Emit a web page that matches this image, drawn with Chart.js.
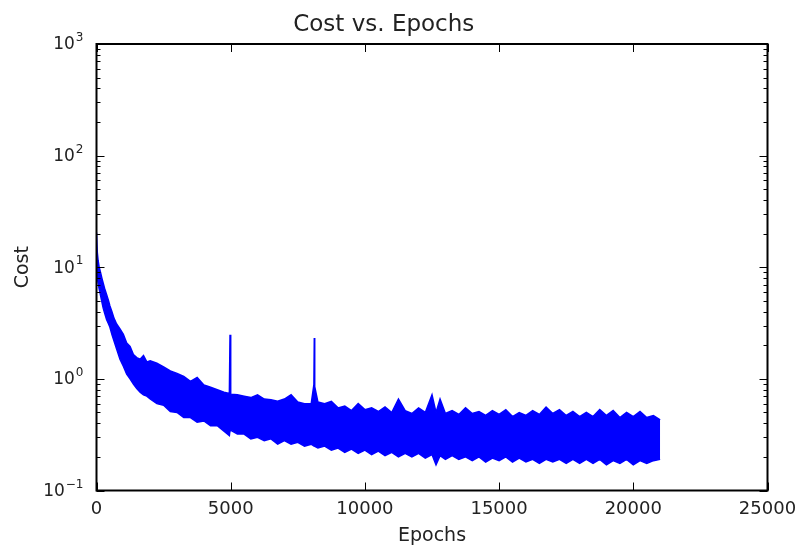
<!DOCTYPE html>
<html>
<head>
<meta charset="utf-8">
<script src="https://cdn.jsdelivr.net/npm/chart.js@4.4.1/dist/chart.umd.min.js"></script>
<style>
html, body { margin: 0; padding: 0; background: #fff; }
canvas { display: block; }
</style>
</head>
<body>
<canvas id="costChart" width="799" height="550"></canvas>
<script>
var epochs = [0, 30, 60, 100, 150, 200, 250, 300, 375, 450, 500, 575, 650, 750, 875, 1000,
  1125, 1250, 1375, 1500, 1625, 1750, 1875, 2000, 2250, 2500, 2750, 3000, 3250, 3500, 3750,
  4000, 4250, 4500, 4750, 4950, 4975, 5000, 5250, 5500, 5750, 6000, 6250, 6500, 6750, 7000,
  7250, 7500, 7750, 8000, 8100, 8115, 8130, 8250, 8500, 8750, 9000, 9250, 9500, 9750, 10000,
  10250, 10500, 10750, 11000, 11250, 11500, 11750, 12000, 12250, 12500, 12650, 12800, 13000,
  13250, 13500, 13750, 14000, 14250, 14500, 14750, 15000, 15250, 15500, 15750, 16000, 16250,
  16500, 16750, 17000, 17250, 17500, 17750, 18000, 18250, 18500, 18750, 19000, 19250, 19500,
  19750, 20000, 20250, 20500, 20750, 21000];

// top edge of the noisy cost curve
var costHigh = [20.5, 13.5, 11.5, 10.0, 9.0, 8.0, 7.2, 6.5, 5.7, 5.0, 4.5, 4.0, 3.5, 3.1, 2.8, 2.5,
  2.1, 1.95, 1.65, 1.55, 1.5, 1.62, 1.42, 1.45, 1.38, 1.28, 1.18, 1.12, 1.05, 0.95, 1.03,
  0.88, 0.84, 0.80, 0.76, 0.74, 2.49, 0.73, 0.72, 0.70, 0.68, 0.72, 0.66, 0.65, 0.63, 0.66,
  0.72, 0.62, 0.60, 0.60, 0.89, 2.32, 0.85, 0.62, 0.60, 0.63, 0.55, 0.57, 0.52, 0.60, 0.53,
  0.55, 0.51, 0.56, 0.50, 0.66, 0.52, 0.49, 0.55, 0.50, 0.72, 0.50, 0.66, 0.49,
  0.52, 0.48, 0.55, 0.49, 0.51, 0.47, 0.52, 0.48, 0.53, 0.46, 0.50, 0.47, 0.52,
  0.48, 0.56, 0.49, 0.53, 0.47, 0.51, 0.46, 0.50, 0.46, 0.53, 0.47, 0.52, 0.45,
  0.50, 0.46, 0.51, 0.45, 0.47, 0.43];

// bottom edge of the noisy cost curve
var costLow = [9.0, 8.0, 7.2, 6.4, 5.6, 4.9, 4.3, 3.9, 3.4, 3.1, 2.9, 2.5, 2.2, 1.85, 1.5, 1.3,
  1.1, 1.0, 0.9, 0.82, 0.76, 0.72, 0.70, 0.66, 0.60, 0.58, 0.51, 0.50, 0.45, 0.45, 0.41,
  0.42, 0.38, 0.38, 0.34, 0.31, 0.35, 0.35, 0.32, 0.32, 0.29, 0.30, 0.28, 0.29, 0.26, 0.28,
  0.26, 0.27, 0.25, 0.26, 0.25, 0.25, 0.25, 0.24, 0.25, 0.23, 0.24, 0.22, 0.235, 0.215, 0.23,
  0.21, 0.225, 0.205, 0.22, 0.20, 0.215, 0.20, 0.215, 0.195, 0.21, 0.17, 0.205, 0.19,
  0.205, 0.19, 0.20, 0.185, 0.20, 0.18, 0.195, 0.185, 0.20, 0.18, 0.195, 0.18, 0.19,
  0.175, 0.19, 0.18, 0.19, 0.175, 0.19, 0.175, 0.19, 0.175, 0.19, 0.17, 0.185, 0.175,
  0.19, 0.17, 0.185, 0.175, 0.185, 0.19];

var xTicks = [0, 5000, 10000, 15000, 20000, 25000];
var yTickExp = [-1, 0, 1, 2, 3];

var textColor = '#222';
var lineBlue = '#0000ff';

function toPoints(ys) {
  return epochs.map(function (e, i) { return { x: e, y: ys[i] }; });
}

// matplotlib style box, inward ticks and 10^n labels
var mplFrame = {
  id: 'mplFrame',
  afterDraw: function (chart) {
    var ctx = chart.ctx, area = chart.chartArea;
    var xs = chart.scales.x, ys = chart.scales.y;
    ctx.save();
    ctx.strokeStyle = '#000';
    ctx.lineWidth = 1;
    ctx.beginPath();
    xTicks.forEach(function (v) {
      var px = Math.round(xs.getPixelForValue(v)) + 0.5;
      ctx.moveTo(px, area.bottom); ctx.lineTo(px, area.bottom - 8);
      ctx.moveTo(px, area.top); ctx.lineTo(px, area.top + 8);
    });
    yTickExp.forEach(function (e) {
      for (var m = 1; m <= 9; m++) {
        var v = m * Math.pow(10, e);
        if (v > 1000) break;
        var len = m === 1 ? 8 : 4;
        var py = Math.round(ys.getPixelForValue(v)) + 0.5;
        ctx.moveTo(area.left, py); ctx.lineTo(area.left + len, py);
        ctx.moveTo(area.right, py); ctx.lineTo(area.right - len, py);
      }
    });
    ctx.stroke();

    ctx.lineWidth = 2;
    ctx.strokeRect(area.left, area.top, area.right - area.left, area.bottom - area.top);

    // y tick labels with superscript exponent
    ctx.fillStyle = textColor;
    ctx.textBaseline = 'middle';
    yTickExp.forEach(function (e) {
      var py = ys.getPixelForValue(Math.pow(10, e));
      var expStr = e < 0 ? '\u2212' + (-e) : String(e);
      ctx.font = '12px "DejaVu Sans"';
      var ew = ctx.measureText(expStr).width;
      var ex = area.left - 13 - ew;
      ctx.textAlign = 'left';
      ctx.fillText(expStr, ex, py - 6);
      ctx.font = '17px "DejaVu Sans"';
      ctx.textAlign = 'right';
      ctx.fillText('10', ex - 1, py + 1);
    });
    ctx.restore();
  }
};

var chart = new Chart(document.getElementById('costChart'), {
  type: 'line',
  data: {
    datasets: [
      {
        data: toPoints(costHigh),
        borderColor: lineBlue,
        backgroundColor: lineBlue,
        borderWidth: 1.5,
        pointRadius: 0,
        tension: 0,
        fill: '+1'
      },
      {
        data: toPoints(costLow),
        borderColor: lineBlue,
        backgroundColor: lineBlue,
        borderWidth: 1.5,
        pointRadius: 0,
        tension: 0,
        fill: false
      }
    ]
  },
  options: {
    responsive: false,
    animation: false,
    devicePixelRatio: 1,
    layout: { padding: { left: 0, right: 31.5, top: 0, bottom: 0 } },
    plugins: {
      legend: { display: false },
      tooltip: { enabled: false },
      title: {
        display: true,
        text: 'Cost vs. Epochs',
        color: textColor,
        font: { family: 'DejaVu Sans', size: 23, weight: 'normal' },
        padding: { top: 11.5, bottom: 4.9 }
      }
    },
    scales: {
      x: {
        type: 'linear',
        min: 0,
        max: 25000,
        grid: { display: false, drawTicks: false },
        border: { display: false },
        ticks: {
          stepSize: 5000,
          maxRotation: 0,
          padding: 8,
          color: textColor,
          font: { family: 'DejaVu Sans', size: 18 },
          callback: function (v) { return String(v); }
        },
        title: {
          display: true,
          text: 'Epochs',
          color: textColor,
          font: { family: 'DejaVu Sans', size: 19 },
          padding: { top: 0, bottom: 3 }
        },
        afterFit: function (scale) {
          scale.height = 59.5;
          scale.paddingLeft = 0;
          scale.paddingRight = 0;
        }
      },
      y: {
        type: 'logarithmic',
        min: 0.1,
        max: 1000,
        grid: { display: false, drawTicks: false },
        border: { display: false },
        ticks: { display: false },
        title: {
          display: true,
          text: 'Cost',
          color: textColor,
          font: { family: 'DejaVu Sans', size: 19 },
          padding: { top: 11.5, bottom: 0 }
        },
        afterFit: function (scale) { scale.width = 96.5; }
      }
    }
  },
  plugins: [mplFrame]
});
</script>
</body>
</html>
